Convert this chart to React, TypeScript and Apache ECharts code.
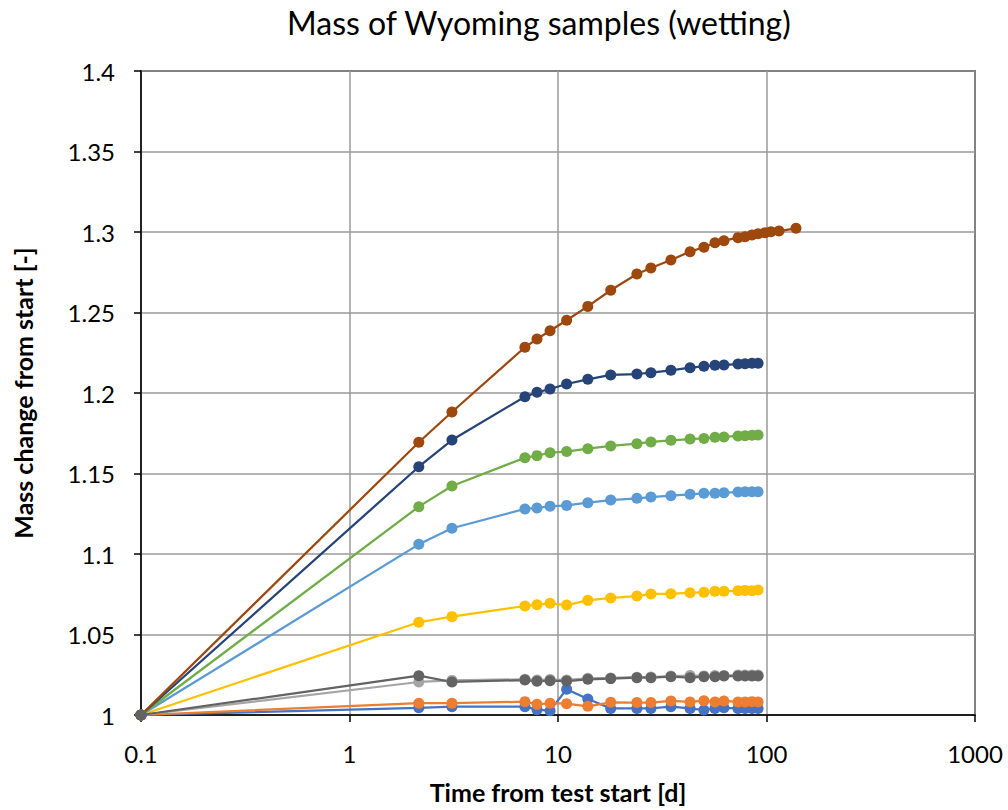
import React, { useEffect, useRef } from "react";
import * as echarts from "echarts";

const titleText = "Mass of Wyoming samples (wetting)";
const xAxisName = "Time from test start [d]";
const yAxisName = "Mass change from start [-]";

const seriesNames = [
  "Sample 1",
  "Sample 2",
  "Sample 3",
  "Sample 4",
  "Sample 5",
  "Sample 6",
  "Sample 7",
  "Sample 8",
  "Sample 9",
];
const seriesColors = [
  "#4472C4",
  "#ED7D31",
  "#A5A5A5",
  "#FFC000",
  "#5B9BD5",
  "#70AD47",
  "#264478",
  "#9E480E",
  "#636363",
];

const times = [
  0.1, 2.15, 3.1, 6.94, 7.93, 9.16, 11.0, 13.9, 17.9, 23.9, 27.9, 34.8, 43.0,
  50.1, 56.6, 62.5, 73.0, 78.9, 85.2, 91.1,
];
const timesLong = [...times, 98.4, 105, 114.8, 138.5];

const s1 = [
  1, 1.0045, 1.0052, 1.0052, 1.0033, 1.0027, 1.016, 1.0099, 1.0041, 1.0041,
  1.0041, 1.0052, 1.0041, 1.0031, 1.0041, 1.0045, 1.0041, 1.0041, 1.0041,
  1.0041,
];
const s2 = [
  1, 1.0073, 1.0073, 1.0083, 1.0066, 1.0073, 1.007, 1.0054, 1.0079, 1.0077,
  1.0077, 1.0087, 1.0081, 1.0089, 1.0081, 1.0087, 1.0081, 1.0081, 1.0083,
  1.0081,
];
const s3 = [
  1, 1.0205, 1.0215, 1.0222, 1.0218, 1.022, 1.0218, 1.0228, 1.023, 1.0235,
  1.0236, 1.0242, 1.0245, 1.0243, 1.0246, 1.0246, 1.0248, 1.0248, 1.0248,
  1.0248,
];
const s4 = [
  1, 1.0576, 1.0611, 1.0677, 1.0685, 1.0694, 1.0683, 1.0712, 1.0727, 1.0739,
  1.0752, 1.0753, 1.076, 1.0762, 1.0768, 1.0768, 1.0772, 1.0774, 1.0772,
  1.0776,
];
const s5 = [
  1, 1.106, 1.116, 1.128, 1.1286, 1.1296, 1.1302, 1.1319, 1.1335, 1.1346,
  1.1354, 1.1362, 1.1371, 1.1377, 1.1377, 1.1381, 1.1385, 1.1387, 1.1387,
  1.1387,
];
const s6 = [
  1, 1.1294, 1.1422, 1.1598, 1.1611, 1.1629, 1.1636, 1.1654, 1.1671, 1.1685,
  1.1696, 1.1706, 1.1714, 1.1718, 1.1725, 1.1727, 1.1733, 1.1735, 1.1737,
  1.1739,
];
const s7 = [
  1, 1.1542, 1.1708, 1.1977, 1.2004, 1.2025, 1.2056, 1.2085, 1.2112, 1.2118,
  1.2126, 1.2141, 1.2157, 1.2166, 1.2172, 1.2174, 1.218, 1.2182, 1.2185,
  1.2185,
];
const s8 = [
  1, 1.1694, 1.1882, 1.2284, 1.2335, 1.2387, 1.2452, 1.2538, 1.2638, 1.2739,
  1.2776, 1.2826, 1.2878, 1.2905, 1.2933, 1.2946, 1.2965, 1.2971, 1.2981,
  1.2989, 1.2996, 1.3002, 1.3006, 1.3023,
];
const s9 = [
  1, 1.0244, 1.0205, 1.0217, 1.0209, 1.0213, 1.0211, 1.0222, 1.0226, 1.0232,
  1.0232, 1.0238, 1.0232, 1.0238, 1.0238, 1.0242, 1.0242, 1.0242, 1.0242,
  1.0242,
];

const seriesValues = [s1, s2, s3, s4, s5, s6, s7, s8, s9];
const seriesTimes = [
  times,
  times,
  times,
  times,
  times,
  times,
  times,
  timesLong,
  times,
];

const xTicks = [0.1, 1, 10, 100, 1000];
const yMin = 1;
const yMax = 1.4;
const yStep = 0.05;

const FONT = "Lato, 'Open Sans', sans-serif";

export default function App() {
  const ref = useRef<HTMLDivElement>(null);

  useEffect(() => {
    if (!ref.current) return;
    const chart = echarts.init(ref.current, undefined, { renderer: "svg" });
    const series = seriesNames.map((name, i) => ({
      name,
      type: "line",
      data: seriesTimes[i].map((t, k) => [t, seriesValues[i][k]]),
      symbol: "circle",
      symbolSize: 11,
      showSymbol: true,
      lineStyle: { width: 2.25, color: seriesColors[i] },
      itemStyle: { color: seriesColors[i] },
      emphasis: { disabled: true },
    }));
    chart.setOption({
      animation: false,
      backgroundColor: "#ffffff",
      textStyle: { fontFamily: FONT },
      title: {
        text: titleText,
        left: 282,
        top: 1,
        textStyle: {
          fontFamily: FONT,
          fontSize: 32,
          fontWeight: "normal",
          color: "#000",
        },
      },
      legend: {
        orient: "vertical",
        left: 1004,
        top: 275,
        itemWidth: 20,
        itemHeight: 3,
        itemGap: 20.4,
        icon: "rect",
        formatter: () => "",
        textStyle: { fontSize: 12, lineHeight: 16, color: "#000" },
        data: seriesNames,
      },
      grid: {
        left: 141,
        right: 33,
        top: 71,
        bottom: 95,
        show: true,
        borderColor: "#000",
        borderWidth: 1.5,
        backgroundColor: "transparent",
      },
      xAxis: {
        type: "log",
        logBase: 10,
        min: xTicks[0],
        max: xTicks[xTicks.length - 1],
        name: xAxisName,
        nameLocation: "middle",
        nameGap: 64,
        nameTextStyle: {
          fontFamily: FONT,
          fontSize: 25,
          fontWeight: "bold",
          color: "#000",
        },
        axisLine: { show: true, lineStyle: { color: "#000", width: 1.5 } },
        axisTick: {
          show: true,
          inside: false,
          length: 7,
          lineStyle: { color: "#000", width: 1.5 },
        },
        axisLabel: {
          fontFamily: FONT,
          fontSize: 24,
          color: "#000",
          margin: 26,
          formatter: (v: number) => String(+Number(v).toPrecision(3)),
        },
        splitLine: {
          show: true,
          lineStyle: { color: "#9a9a9a", width: 1.5 },
        },
        minorTick: { show: false },
        minorSplitLine: { show: false },
      },
      yAxis: {
        type: "value",
        min: yMin,
        max: yMax,
        interval: yStep,
        name: yAxisName,
        nameLocation: "middle",
        nameGap: 106,
        nameRotate: 90,
        nameTextStyle: {
          fontFamily: FONT,
          fontSize: 25,
          fontWeight: "bold",
          color: "#000",
        },
        axisLine: { show: true, lineStyle: { color: "#000", width: 1.5 } },
        axisTick: {
          show: true,
          inside: false,
          length: 7,
          lineStyle: { color: "#000", width: 1.5 },
        },
        axisLabel: {
          fontFamily: FONT,
          fontSize: 24,
          color: "#000",
          margin: 26,
          formatter: (v: number) => String(+Number(v).toFixed(2)),
        },
        splitLine: {
          show: true,
          lineStyle: { color: "#9a9a9a", width: 1.5 },
        },
      },
      series,
    });
    return () => chart.dispose();
  }, []);

  return (
    <div
      ref={ref}
      style={{
        position: "fixed",
        left: 0,
        top: 0,
        width: 1008,
        height: 810,
        background: "#fff",
      }}
    />
  );
}
